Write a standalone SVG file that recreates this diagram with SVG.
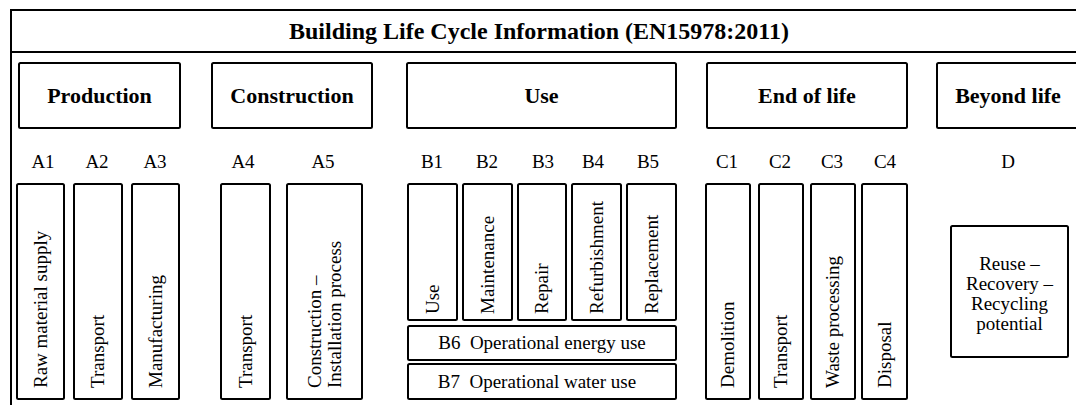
<svg xmlns="http://www.w3.org/2000/svg" width="1076" height="405" viewBox="0 0 1076 405" font-family="'Liberation Serif', 'Times New Roman', Tinos, 'DejaVu Serif', 'Noto Serif', serif">
<style>
.box{fill:#fff;stroke:#000;stroke-width:2}
.frame{fill:none;stroke:#000;stroke-width:2}
text{fill:#000}
.title{font-size:24px;font-weight:bold;text-anchor:middle}
.head{font-size:22px;font-weight:bold;text-anchor:middle}
.lbl{font-size:19px;text-anchor:middle}
.v{font-size:19px}
.c{font-size:19px;text-anchor:middle}
</style>
<rect width="1076" height="405" fill="#fff"/>
<g id="frame">
<rect class="frame" x="11" y="10" width="1100" height="420"/>
<line x1="11" y1="52" x2="1076" y2="52" stroke="#000" stroke-width="2"/>
<text class="title" x="539" y="39">Building Life Cycle Information (EN15978:2011)</text>
</g>
<g id="production"><rect class="box" x="19" y="63" width="161" height="65" rx="1.5"/><text class="head" x="99.5" y="103">Production</text></g>
<g id="construction"><rect class="box" x="212" y="63" width="160" height="65" rx="1.5"/><text class="head" x="292" y="103">Construction</text></g>
<g id="use"><rect class="box" x="407" y="63" width="269" height="65" rx="1.5"/><text class="head" x="541.5" y="103">Use</text></g>
<g id="endoflife"><rect class="box" x="707" y="63" width="200" height="65" rx="1.5"/><text class="head" x="807" y="103">End of life</text></g>
<g id="beyondlife"><rect class="box" x="937" y="63" width="145" height="65" rx="1.5"/><text class="head" x="1008" y="103">Beyond life</text></g>
<g id="codes">
<text class="lbl" x="43" y="168">A1</text>
<text class="lbl" x="97" y="168">A2</text>
<text class="lbl" x="155" y="168">A3</text>
<text class="lbl" x="243" y="168">A4</text>
<text class="lbl" x="323" y="168">A5</text>
<text class="lbl" x="432" y="168">B1</text>
<text class="lbl" x="487" y="168">B2</text>
<text class="lbl" x="543" y="168">B3</text>
<text class="lbl" x="593" y="168">B4</text>
<text class="lbl" x="648" y="168">B5</text>
<text class="lbl" x="727" y="168">C1</text>
<text class="lbl" x="780" y="168">C2</text>
<text class="lbl" x="832" y="168">C3</text>
<text class="lbl" x="885" y="168">C4</text>
<text class="lbl" x="1008" y="168">D</text>
</g>
<g id="a1"><rect class="box" x="17" y="184" width="47" height="215" rx="1.5"/><text class="v" transform="translate(46.5,388) rotate(-90)">Raw material supply</text></g>
<g id="a2"><rect class="box" x="74" y="184" width="48" height="215" rx="1.5"/><text class="v" transform="translate(104,388) rotate(-90)">Transport</text></g>
<g id="a3"><rect class="box" x="132" y="184" width="47" height="215" rx="1.5"/><text class="v" transform="translate(161.5,388) rotate(-90)">Manufacturing</text></g>
<g id="a4"><rect class="box" x="221" y="184" width="49" height="215" rx="1.5"/><text class="v" transform="translate(251.5,388) rotate(-90)">Transport</text></g>
<g id="a5"><rect class="box" x="287" y="184" width="75" height="215" rx="1.5"/><text class="v" transform="translate(320.5,388) rotate(-90)">Construction –</text><text class="v" transform="translate(340.5,388) rotate(-90)">Installation process</text></g>
<g id="b1"><rect class="box" x="408" y="184" width="49" height="136" rx="1.5"/><text class="v" transform="translate(438.5,314) rotate(-90)">Use</text></g>
<g id="b2"><rect class="box" x="463" y="184" width="49" height="136" rx="1.5"/><text class="v" transform="translate(493.5,314) rotate(-90)">Maintenance</text></g>
<g id="b3"><rect class="box" x="518" y="184" width="48" height="136" rx="1.5"/><text class="v" transform="translate(548,314) rotate(-90)">Repair</text></g>
<g id="b4"><rect class="box" x="572" y="184" width="49" height="136" rx="1.5"/><text class="v" transform="translate(602.5,314) rotate(-90)">Refurbishment</text></g>
<g id="b5"><rect class="box" x="627" y="184" width="49" height="136" rx="1.5"/><text class="v" transform="translate(657.5,314) rotate(-90)">Replacement</text></g>
<g id="b6"><rect class="box" x="408" y="326" width="268" height="34" rx="1.5"/><text class="c" x="542" y="349" xml:space="preserve">B6  Operational energy use</text></g>
<g id="b7"><rect class="box" x="408" y="364" width="268" height="35" rx="1.5"/><text class="c" x="537" y="388" xml:space="preserve">B7  Operational water use</text></g>
<g id="c1"><rect class="box" x="706" y="184" width="44" height="215" rx="1.5"/><text class="v" transform="translate(734,388) rotate(-90)">Demolition</text></g>
<g id="c2"><rect class="box" x="759" y="184" width="44" height="215" rx="1.5"/><text class="v" transform="translate(787,388) rotate(-90)">Transport</text></g>
<g id="c3"><rect class="box" x="811" y="184" width="44" height="215" rx="1.5"/><text class="v" transform="translate(839,388) rotate(-90)">Waste processing</text></g>
<g id="c4"><rect class="box" x="862" y="184" width="45" height="215" rx="1.5"/><text class="v" transform="translate(890.5,388) rotate(-90)">Disposal</text></g>
<g id="d"><rect class="box" x="951" y="226" width="117" height="131" rx="1.5"/>
<text class="c" x="1009.5" y="270">Reuse –</text>
<text class="c" x="1009.5" y="290">Recovery –</text>
<text class="c" x="1009.5" y="310">Recycling</text>
<text class="c" x="1009.5" y="330">potential</text>
</g>
<g id="connectors"></g>
</svg>
